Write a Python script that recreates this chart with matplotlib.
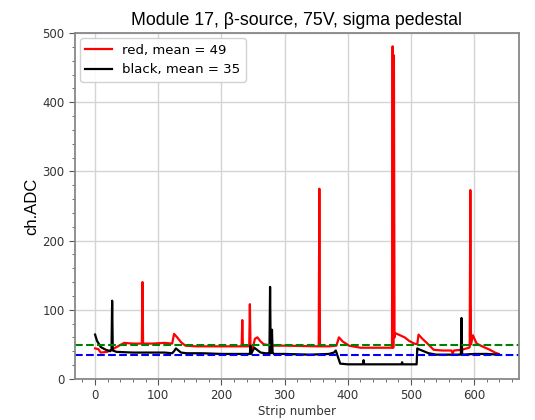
import matplotlib
matplotlib.use("Agg")
import matplotlib.pyplot as plt

# key points: (strip, ch.ADC)
red_strip = [0, 5, 9, 19, 30, 40, 46, 60, 74, 75, 76, 90, 110, 122, 125, 130, 136, 143, 160,
             200, 232, 233, 234, 240, 244, 245, 246, 247, 250, 253, 257, 262, 267, 280, 300,
             354, 355, 356, 370, 382, 386, 392, 402, 420, 450, 469, 470, 471, 472, 473, 474,
             475, 478, 490, 497, 505, 510, 512, 518, 525, 536, 550, 564, 566, 568, 580, 592,
             593, 594, 595, 598, 604, 615, 625, 633, 639]
red_val = [44, 43, 38, 39, 44, 49, 52, 51, 51, 140, 51, 51, 52, 51, 65, 60, 53, 48, 47,
           47, 47, 85, 47, 47, 47, 108, 47, 38, 46, 58, 60, 54, 50, 48, 48,
           47, 275, 47, 47, 48, 60, 54, 48, 45, 45, 45, 45, 481, 45, 468, 60,
           66, 65, 60, 55, 51, 50, 64, 58, 52, 42, 41, 41, 37, 41, 42, 45,
           46, 273, 50, 63, 51, 46, 42, 38, 36]

black_strip = [0, 3, 9, 17, 24, 25, 26, 27, 28, 34, 60, 90, 110, 122, 125, 128, 136, 145,
               170, 200, 240, 245, 246, 247, 252, 262, 270, 274, 275, 276, 277, 278, 279,
               280, 281, 283, 300, 340, 370, 378, 381, 388, 400, 424, 425, 426, 460, 485,
               486, 487, 509, 510, 512, 520, 528, 540, 560, 578, 579, 580, 581, 600, 620, 639]
black_val = [64, 55, 46, 42, 40, 41, 42, 113, 41, 39, 38, 38, 38, 37, 40, 44, 38, 37,
             37, 36, 36, 36, 48, 36, 45, 38, 37, 37, 37, 37, 133, 37, 42, 71, 38, 36,
             36, 35, 36, 38, 41, 22, 21, 21, 27, 21, 21, 21, 24, 21, 21, 44, 43, 40,
             37, 35, 35, 35, 35, 88, 35, 36, 36, 35]

red_mean = 49
black_mean = 35

fig = plt.figure(figsize=(5.35, 4.2), dpi=100)
ax = fig.add_axes([0.140, 0.098, 0.830, 0.823])

ax.grid(True, color="#d4d4d4", linewidth=1.0)
ax.set_axisbelow(True)
ax.plot(red_strip, red_val, color="red", linewidth=1.6, label=f"red, mean = {red_mean}")
ax.plot(black_strip, black_val, color="black", linewidth=1.6, label=f"black, mean = {black_mean}")
ax.axhline(red_mean, color="green", linestyle="--", linewidth=1.5)
ax.axhline(black_mean, color="blue", linestyle="--", linewidth=1.5)

ax.set_ylim(0, 500)
ax.set_xticks([0, 100, 200, 300, 400, 500, 600])
ax.minorticks_on()
ax.tick_params(which="both", labelsize=8.5, labelcolor="#333333", color="#555555")
ax.tick_params(which="major", length=4)
ax.tick_params(which="minor", length=2)
for sp in ax.spines.values():
    sp.set_color("#888888")
    sp.set_linewidth(1.3)

ax.set_title("Module 17, \u03b2-source, 75V, sigma pedestal", fontsize=12.8,
             family="Liberation Sans", pad=6)
ax.set_ylabel("ch.ADC", fontsize=12, family="Liberation Sans", labelpad=2)
ax.set_xlabel("Strip number", fontsize=8.5, color="#333333", labelpad=2)
ax.legend(loc="upper left", fontsize=9.5, handlelength=2.0, framealpha=0.9,
          borderaxespad=0.4)

fig.savefig("out.png", dpi=100)
